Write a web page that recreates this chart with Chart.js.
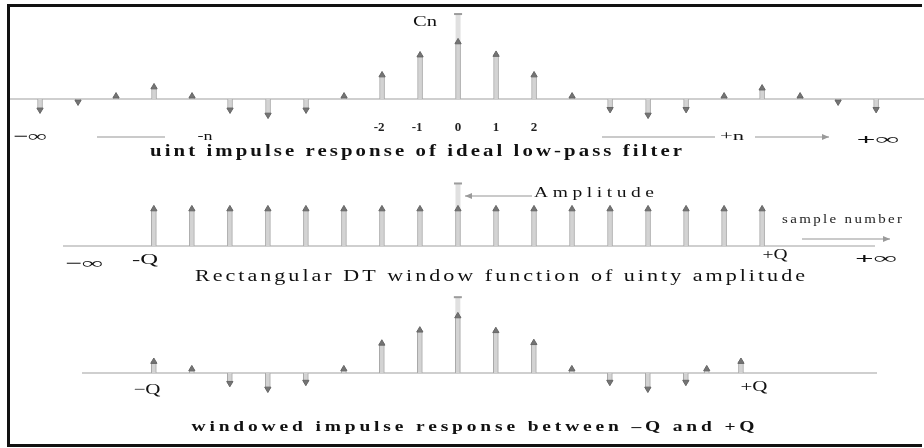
<!DOCTYPE html>
<html>
<head>
<meta charset="utf-8">
<script src="https://cdn.jsdelivr.net/npm/chart.js@4.4.1/dist/chart.umd.min.js"></script>
<style>
  html, body { margin: 0; padding: 0; background: #fff; }
  #page { position: relative; width: 924px; height: 448px; overflow: hidden; background: #fff; }
  .panel { position: absolute; left: 0; width: 924px; }
  .frame { position: absolute; left: 7px; top: 4px; width: 915px; height: 443px; box-sizing: border-box;
           border-top: 3px solid #111; border-left: 3px solid #111; border-bottom: 3px solid #111; pointer-events: none; }
</style>
</head>
<body>
<div id="page">
  <canvas id="lowpassChart" class="panel" style="top:0" width="924" height="160"></canvas>
  <canvas id="windowChart" class="panel" style="top:160px" width="924" height="130"></canvas>
  <canvas id="windowedChart" class="panel" style="top:290px" width="924" height="158"></canvas>
  <div class="frame"></div>
</div>
<script>
// sample index and amplitude (centre sample = 1)
const lowpassN = [-11, -10, -9, -8, -7, -6, -5, -4, -3, -2, -1, 0, 1, 2, 3, 4, 5, 6, 7, 8, 9, 10, 11];
const lowpassValues = [-0.19, -0.05, 0.05, 0.21, 0.05, -0.19, -0.28, -0.19, 0.05, 0.42, 0.77, 1.0, 0.78, 0.42, 0.05, -0.18, -0.28, -0.18, 0.05, 0.19, 0.05, -0.05, -0.18];
const lowpassTicks = [-2, -1, 0, 1, 2];

const windowN = [-8, -7, -6, -5, -4, -3, -2, -1, 0, 1, 2, 3, 4, 5, 6, 7, 8];
const windowValues = [1, 1, 1, 1, 1, 1, 1, 1, 1, 1, 1, 1, 1, 1, 1, 1, 1];

// the last two samples sit a little off the grid in the drawing
const windowedN = [-8, -7, -6, -5, -4, -3, -2, -1, 0, 1, 2, 3, 4, 5, 6, 6.55, 7.45];
const windowedValues = [0.2, 0.07, -0.18, -0.28, -0.16, 0.07, 0.52, 0.75, 1.0, 0.74, 0.53, 0.07, -0.16, -0.28, -0.16, 0.07, 0.2];

const SERIF = '"Liberation Serif", "Times New Roman", serif';

// text stretched to the width it has in the scan: glyphs widened by `stretch`, the rest as letter spacing
function drawFitted(ctx, t) {
  ctx.save();
  ctx.font = t.font;
  ctx.fillStyle = t.color || '#111';
  ctx.textBaseline = 'middle';
  ctx.textAlign = 'left';
  const w0 = ctx.measureText(t.text).width;
  const len = [...t.text].length;
  ctx.translate(t.x - t.width / 2, t.y);
  if (t.spread && len > 1 && 'letterSpacing' in ctx) {
    const sx = t.stretch || 1;
    ctx.scale(sx, 1);
    ctx.letterSpacing = ((t.width / sx - w0) / (len - 1)) + 'px';
  } else {
    ctx.scale(t.width / w0, 1);
  }
  ctx.fillText(t.text, 0, 0);
  ctx.restore();
}

function drawArrow(ctx, a) {
  ctx.save();
  ctx.strokeStyle = '#b8b8b8';
  ctx.fillStyle = '#9a9a9a';
  ctx.lineWidth = 1.5;
  ctx.beginPath(); ctx.moveTo(a.x1, a.y); ctx.lineTo(a.x2, a.y); ctx.stroke();
  if (a.head) {
    const d = a.x2 > a.x1 ? 1 : -1;
    ctx.beginPath();
    ctx.moveTo(a.x2, a.y);
    ctx.lineTo(a.x2 - d * 7, a.y - 3);
    ctx.lineTo(a.x2 - d * 7, a.y + 3);
    ctx.closePath(); ctx.fill();
  }
  ctx.restore();
}

const stemDecor = {
  id: 'stemDecor',
  beforeDatasetsDraw(chart, args, opts) {
    const { ctx, chartArea: a, scales: { x, y } } = chart;
    const y0 = y.getPixelForValue(0);
    ctx.save();
    ctx.strokeStyle = '#cfcfcf';
    ctx.lineWidth = 2;
    ctx.beginPath(); ctx.moveTo(a.left, y0); ctx.lineTo(a.right, y0); ctx.stroke();
    // amplitude axis through n = 0
    const x0 = x.getPixelForValue(0);
    const yt = y.getPixelForValue(opts.axisTo);
    ctx.fillStyle = '#e0e0e0';
    ctx.fillRect(x0 - 2.5, yt, 5, y0 - yt);
    ctx.fillStyle = '#9c9c9c';
    ctx.fillRect(x0 - 4, yt - 1, 8, 2);
    ctx.restore();
  },
  afterDraw(chart, args, opts) {
    const { ctx, scales: { x } } = chart;
    (opts.arrows || []).forEach(a => drawArrow(ctx, a));
    if (opts.ticks) {
      ctx.save();
      ctx.font = opts.ticks.font;
      ctx.fillStyle = '#222';
      ctx.textAlign = 'center';
      ctx.textBaseline = 'middle';
      opts.ticks.values.forEach(v => ctx.fillText(String(v), x.getPixelForValue(v) - (v < 0 ? 3 : 0), opts.ticks.y));
      ctx.restore();
    }
    (opts.texts || []).forEach(t => drawFitted(ctx, t));
  }
};

function stemChart(id, n, values, o) {
  const pts = n.map((v, i) => ({ x: v, y: values[i] }));
  return new Chart(document.getElementById(id), {
    type: 'bar',
    data: {
      datasets: [
        { type: 'bar', data: pts, backgroundColor: '#d3d3d3', borderColor: '#a9a9a9', borderWidth: 1,
          barThickness: 5, grouped: false, order: 2, clip: false },
        { type: 'scatter', data: pts, pointStyle: 'triangle', pointRadius: 3.6,
          rotation: c => (c.raw && c.raw.y < 0 ? 180 : 0),
          backgroundColor: '#747474', borderColor: '#666', borderWidth: 1, order: 1, clip: false }
      ]
    },
    options: {
      responsive: false,
      animation: false,
      events: [],
      layout: { padding: o.pad, autoPadding: false },
      scales: {
        x: { type: 'linear', display: false, offset: false, min: o.x[0], max: o.x[1] },
        y: { type: 'linear', display: false, min: o.y[0], max: o.y[1] }
      },
      plugins: { legend: { display: false }, tooltip: { enabled: false }, stemDecor: o.decor }
    },
    plugins: [stemDecor]
  });
}

stemChart('lowpassChart', lowpassN, lowpassValues, {
  pad: { left: 10, right: 0, top: 10, bottom: 40 },
  x: [-11.79, 12.26], y: [-0.368, 1.561],
  decor: {
    axisTo: 1.49,
    ticks: { values: lowpassTicks, y: 128, font: 'bold 13px ' + SERIF },
    arrows: [
      { x1: 165, x2: 97, y: 137, head: false },
      { x1: 602, x2: 715, y: 137, head: false },
      { x1: 755, x2: 829, y: 137, head: true }
    ],
    texts: [
      { text: 'Cn', x: 425, y: 22, width: 24, font: '14px ' + SERIF },
      { text: '\u2212\u221E', x: 30, y: 137, width: 34, font: 'bold 15px ' + SERIF },
      { text: '-n', x: 205, y: 137, width: 15, font: '13px ' + SERIF },
      { text: '+n', x: 732, y: 137, width: 24, font: '13px ' + SERIF },
      { text: '+\u221E', x: 878, y: 140, width: 43, font: 'bold 15px ' + SERIF },
      { text: 'uint impulse response of ideal low-pass filter', x: 416, y: 152, width: 532, spread: true, stretch: 1.3, font: 'bold 16px ' + SERIF }
    ]
  }
});

stemChart('windowChart', windowN, windowValues, {
  pad: { left: 63, right: 49, top: 10, bottom: 30 },
  x: [-10.39, 10.97], y: [-0.378, 2.054],
  decor: {
    axisTo: 1.69,
    arrows: [
      { x1: 532, x2: 465, y: 36, head: true },
      { x1: 802, x2: 890, y: 79, head: true }
    ],
    texts: [
      { text: 'Amplitude', x: 594, y: 33, width: 120, spread: true, stretch: 1.3, font: '15px ' + SERIF },
      { text: 'sample number', x: 842, y: 60, width: 120, spread: true, stretch: 1.15, font: '13px ' + SERIF, color: '#222' },
      { text: '\u2212\u221E', x: 84, y: 104, width: 38, font: 'bold 15px ' + SERIF },
      { text: '-Q', x: 145, y: 100, width: 26, font: '15px ' + SERIF },
      { text: '+Q', x: 775, y: 95, width: 25, font: '15px ' + SERIF },
      { text: '+\u221E', x: 876, y: 99, width: 42, font: 'bold 15px ' + SERIF },
      { text: 'Rectangular DT window function of uinty amplitude', x: 500, y: 117, width: 610, spread: true, stretch: 1.3, font: '17px ' + SERIF }
    ]
  }
});

stemChart('windowedChart', windowedN, windowedValues, {
  pad: { left: 82, right: 47, top: 0, bottom: 48 },
  x: [-9.89, 11.03], y: [-0.474, 1.456],
  decor: {
    axisTo: 1.33,
    texts: [
      { text: '\u2212Q', x: 147, y: 100, width: 27, font: '15px ' + SERIF },
      { text: '+Q', x: 754, y: 97, width: 27, font: '15px ' + SERIF },
      { text: 'windowed impulse response between \u2013Q and +Q', x: 473, y: 137, width: 563, spread: true, stretch: 1.3, font: 'bold 15px ' + SERIF }
    ]
  }
});
</script>
</body>
</html>
